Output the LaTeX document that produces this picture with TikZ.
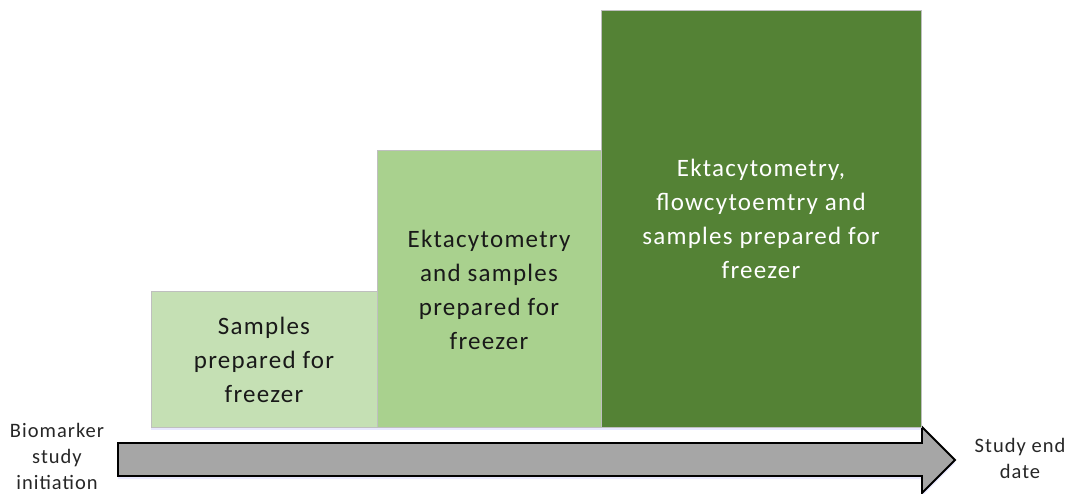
\documentclass[tikz,border=0pt]{standalone}
\usepackage{fontspec}
\setmainfont{Carlito}[LetterSpace=5]
\usetikzlibrary{shapes.arrows,shadows}
\definecolor{stageA}{HTML}{C5E0B4}
\definecolor{stageB}{HTML}{A9D18E}
\definecolor{stageC}{HTML}{548235}
\definecolor{edgegray}{HTML}{BFBFBF}
\definecolor{arrowgray}{HTML}{A6A6A6}
\tikzset{
  softshadow/.style={drop shadow={shadow xshift=0pt, shadow yshift=-3pt, fill=blue!25!white, opacity=0.35}},
  stagebox/.style={draw=edgegray, line width=1pt, softshadow},
  stagetext/.style={align=center, font=\fontsize{25}{34}\selectfont, text=black!90},
  sidelabel/.style={align=center, font=\fontsize{20.5}{26}\selectfont, text=black!85}
}
\begin{document}
\begin{tikzpicture}[x=1pt,y=-1pt]
\useasboundingbox (0,0) rectangle (1069,493);
% time axis
\draw[line width=1.8pt, fill=arrowgray, softshadow]
  (118,443) -- (922,443) -- (922,427) -- (955,460) -- (922,493) -- (922,476) -- (118,476) -- cycle;
% stages
\path[stagebox, fill=stageA] (151,291) rectangle (377,427);
\path[stagebox, fill=stageB] (377,150) rectangle (601,427);
\path[stagebox, fill=stageC] (601,10) rectangle (921,427);
\node[stagetext] (s1) at (264,360) {Samples\\prepared for\\freezer};
\node[stagetext] (s2) at (489,290) {Ektacytometry\\and samples\\prepared for\\freezer};
\node[stagetext, text=white] (s3) at (761,219) {Ektacytometry,\\flowcytoemtry and\\samples prepared for\\freezer};
\node[sidelabel] (start) at (57,456) {Biomarker\\study\\initiation};
\node[sidelabel] (end) at (1020,458) {Study end\\date};
\end{tikzpicture}
\end{document}
